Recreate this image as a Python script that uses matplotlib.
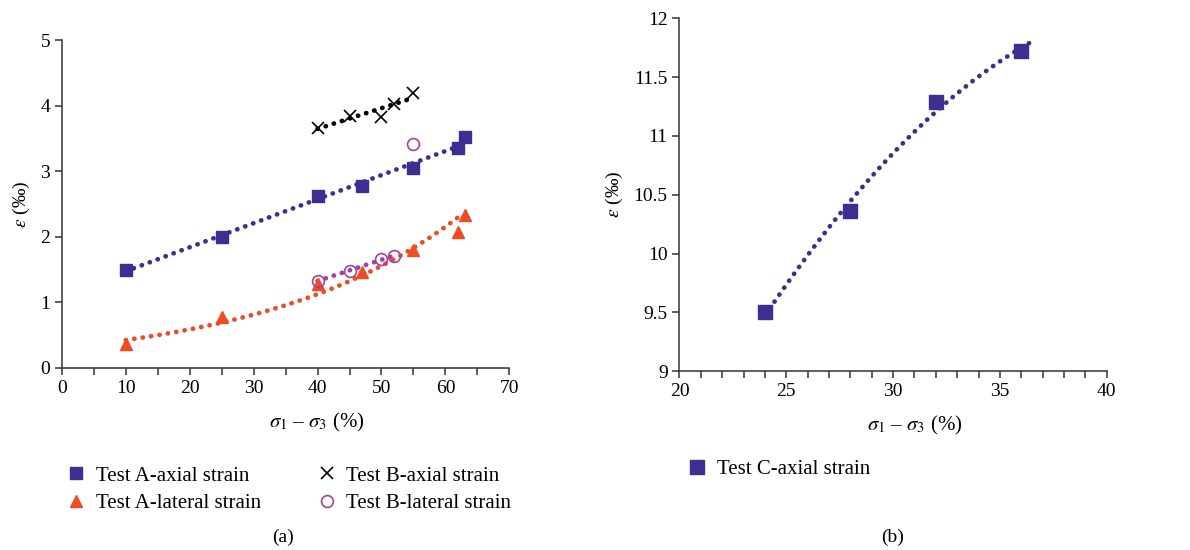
import numpy as np
import matplotlib.pyplot as plt
from matplotlib.ticker import MultipleLocator, FormatStrFormatter

plt.rcParams['font.family'] = ['Liberation Serif', 'DejaVu Serif']
plt.rcParams['mathtext.fontset'] = 'stix'

# test A
a_x = [10, 25, 40, 47, 55, 62, 63]
a_axial = [1.5, 2.0, 2.62, 2.78, 3.05, 3.35, 3.53]
a_lateral = [0.37, 0.77, 1.28, 1.47, 1.80, 2.08, 2.33]
# test B
b_x = [40, 45, 50, 52, 55]
b_axial = [3.66, 3.85, 3.83, 4.03, 4.19]
b_lateral = [1.33, 1.48, 1.66, 1.71, 3.42]
# test C
c_x = [24, 28, 32, 36]
c_axial = [9.5, 10.36, 11.29, 11.72]

blue = '#3d2f91'
red = '#f04b23'
purple = '#a3429e'
dot = dict(linestyle=(0, (0.05, 1.75)), dash_capstyle='round', linewidth=3.4)

fig = plt.figure(figsize=(11.9, 5.5), dpi=100)
ax1 = fig.add_axes([0.052, 0.331, 0.376, 0.596])
ax2 = fig.add_axes([0.571, 0.325, 0.359, 0.642])

# trendlines fitted to the data
t = np.linspace(10, 62.5, 200)
ax1.plot(t, np.polyval(np.polyfit(a_x, a_axial, 1), t), color=blue, **dot)
# exponential trend for lateral strain
p = np.polyfit(a_x, np.log(a_lateral), 1)
t = np.linspace(10, 62.5, 200)
ax1.plot(t, np.exp(np.polyval(p, t)), color=red, **dot)
t = np.linspace(40, 55, 100)
ax1.plot(t, np.polyval(np.polyfit(b_x, b_axial, 1), t), color='black', **dot)
t = np.linspace(40, 52.5, 100)
ax1.plot(t, np.polyval(np.polyfit(b_x[:4], b_lateral[:4], 1), t), color=purple, **dot)

h1, = ax1.plot(a_x, a_axial, 's', color=blue, markersize=8.5, linestyle='none')
h2, = ax1.plot(a_x, a_lateral, '^', color=red, markersize=8.5, linestyle='none')
h3, = ax1.plot(b_x, b_axial, 'x', color='black', markersize=9, mew=1.2, linestyle='none')
h4, = ax1.plot(b_x, b_lateral, 'o', mfc='none', mec=purple, markersize=8.5, mew=1.2, linestyle='none')

t = np.linspace(24, 36.4, 200)
ax2.plot(t, np.polyval(np.polyfit(c_x, c_axial, 2), t), color=blue, **dot)
h5, = ax2.plot(c_x, c_axial, 's', color=blue, markersize=10.5, linestyle='none')

ax1.set_xlim(0, 70)
ax1.set_ylim(0, 5)
ax1.xaxis.set_major_locator(MultipleLocator(10))
ax1.xaxis.set_minor_locator(MultipleLocator(5))
ax1.yaxis.set_major_locator(MultipleLocator(1))
ax2.set_xlim(20, 40)
ax2.set_ylim(9, 12)
ax2.xaxis.set_major_locator(MultipleLocator(5))
ax2.xaxis.set_minor_locator(MultipleLocator(1))
ax2.yaxis.set_major_locator(MultipleLocator(0.5))
ax2.yaxis.set_major_formatter(FormatStrFormatter('%g'))

for ax in (ax1, ax2):
    for s in ('top', 'right'):
        ax.spines[s].set_visible(False)
    for s in ('left', 'bottom'):
        ax.spines[s].set_color('#333333')
        ax.spines[s].set_linewidth(1.1)
    ax.tick_params(which='both', direction='out', labelsize=14, color='#333333',
                   length=5, width=1.1)
    ax.set_xlabel(r'$\sigma_1$ – $\sigma_3$ (%)', fontsize=15, labelpad=12)
    ax.set_ylabel(r'$\varepsilon$ (‰)', fontsize=14, labelpad=6)

ax1.xaxis.set_label_coords(0.57, -0.13)
ax2.xaxis.set_label_coords(0.55, -0.12)

ax1.legend([h1, h2, h3, h4], ['Test A-axial strain', 'Test A-lateral strain',
                              'Test B-axial strain', 'Test B-lateral strain'],
           ncol=2, frameon=False, fontsize=15, loc='upper left',
           bbox_to_anchor=(0.049, 0.168), bbox_transform=fig.transFigure,
           handlelength=0.9, handletextpad=0.5, columnspacing=2.7, labelspacing=0.4,
           borderaxespad=0)
ax2.legend([h5], ['Test C-axial strain'], frameon=False, fontsize=15, loc='upper left',
           bbox_to_anchor=(0.571, 0.18), bbox_transform=fig.transFigure,
           handlelength=0.9, handletextpad=0.5, borderaxespad=0)

fig.text(0.238, 0.015, '(a)', ha='center', fontsize=14)
fig.text(0.750, 0.015, '(b)', ha='center', fontsize=14)

fig.savefig('out.png', dpi=100)
